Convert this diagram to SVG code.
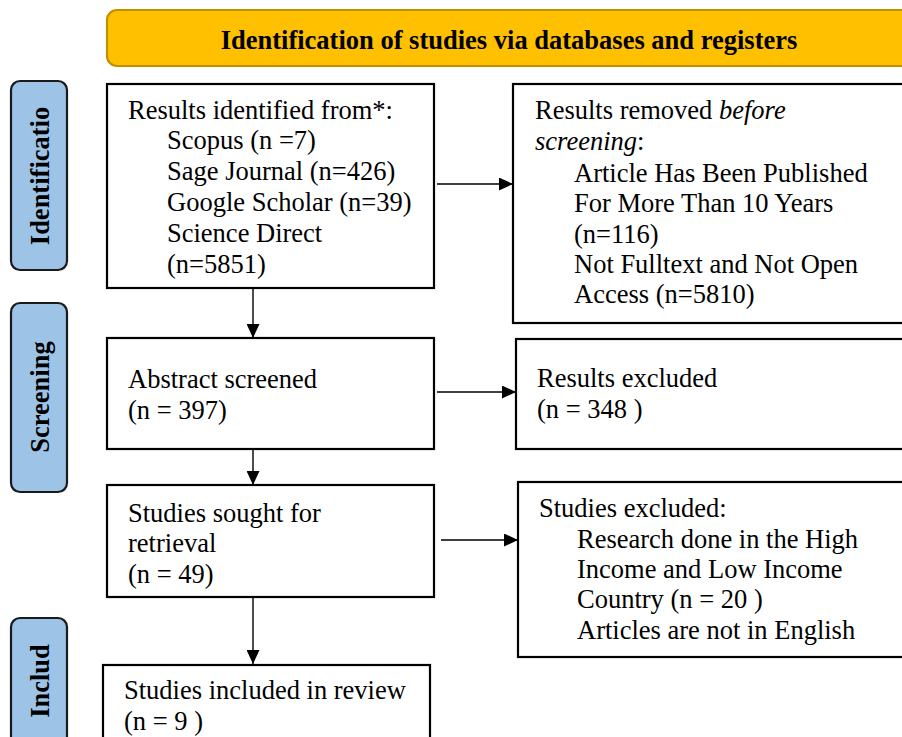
<svg xmlns="http://www.w3.org/2000/svg" width="902" height="737" viewBox="0 0 902 737">
<defs>
<style>
.t{font-family:"Liberation Serif","Times New Roman",serif;font-size:26.5px;fill:#000}
.b{font-weight:bold}
.box{fill:#fff;stroke:#000;stroke-width:2.2}
.side{fill:#9DC3E6;stroke:#1a1a1a;stroke-width:2.2}
.con{stroke:#000;stroke-width:1.4;fill:none;marker-end:url(#ah)}
</style>
<marker id="ah" viewBox="0 0 14 13" refX="14" refY="6.5" markerWidth="14" markerHeight="13" markerUnits="userSpaceOnUse" orient="auto">
<path d="M0,0 L14,6.5 L0,13 z" fill="#000"/>
</marker>
</defs>
<rect width="902" height="737" fill="#fff"/>

<g id="header">
<rect x="107" y="10" width="810" height="56" rx="10" fill="#FFC000" stroke="#BF9000" stroke-width="2.2"/>
<text class="t b" x="509" y="49" text-anchor="middle">Identification of studies via databases and registers</text>
</g>

<g id="side-identification">
<rect class="side" x="11" y="81" width="56" height="189" rx="9"/>
<text class="t b" transform="translate(49,176) rotate(-90)" text-anchor="middle">Identificatio</text>
</g>
<g id="side-screening">
<rect class="side" x="11" y="303" width="56" height="189" rx="9"/>
<text class="t b" transform="translate(49,397) rotate(-90)" text-anchor="middle">Screening</text>
</g>
<g id="side-included">
<rect class="side" x="11" y="618" width="56" height="140" rx="9"/>
<text class="t b" transform="translate(49,681) rotate(-90)" text-anchor="middle">Includ</text>
</g>

<g id="identified">
<rect class="box" x="107" y="84" width="327" height="204"/>
<text class="t" x="128" y="119">Results identified from*:</text>
<text class="t" x="167" y="149">Scopus (n =7)</text>
<text class="t" x="167" y="180">Sage Journal (n=426)</text>
<text class="t" x="167" y="211">Google Scholar (n=39)</text>
<text class="t" x="167" y="242">Science Direct</text>
<text class="t" x="167" y="273">(n=5851)</text>
</g>

<g id="removed">
<rect class="box" x="513" y="84" width="400" height="239"/>
<text class="t" x="535" y="119">Results removed <tspan font-style="italic">before</tspan></text>
<text class="t" x="535" y="150"><tspan font-style="italic">screening</tspan>:</text>
<text class="t" x="574" y="182">Article Has Been Published</text>
<text class="t" x="574" y="212">For More Than 10 Years</text>
<text class="t" x="574" y="243">(n=116)</text>
<text class="t" x="574" y="273">Not Fulltext and Not Open</text>
<text class="t" x="574" y="303">Access (n=5810)</text>
</g>

<g id="screened">
<rect class="box" x="107" y="338" width="327" height="111"/>
<text class="t" x="128" y="388">Abstract screened</text>
<text class="t" x="128" y="419">(n = 397)</text>
</g>

<g id="excluded">
<rect class="box" x="516" y="339" width="400" height="110"/>
<text class="t" x="537" y="387">Results excluded</text>
<text class="t" x="537" y="418">(n = 348 )</text>
</g>

<g id="sought">
<rect class="box" x="107" y="485" width="327" height="112"/>
<text class="t" x="128" y="522">Studies sought for</text>
<text class="t" x="128" y="552">retrieval</text>
<text class="t" x="128" y="583">(n = 49)</text>
</g>

<g id="studies-excluded">
<rect class="box" x="518" y="482" width="400" height="175"/>
<text class="t" x="539" y="517">Studies excluded:</text>
<text class="t" x="577" y="548">Research done in the High</text>
<text class="t" x="577" y="578">Income and Low Income</text>
<text class="t" x="577" y="608">Country (n = 20 )</text>
<text class="t" x="577" y="639">Articles are not in English</text>
</g>

<g id="included">
<rect class="box" x="103" y="665" width="327" height="100"/>
<text class="t" x="124" y="699">Studies included in review</text>
<text class="t" x="124" y="730">(n = 9 )</text>
</g>

<g id="connectors">
<line class="con" x1="253" y1="288" x2="253" y2="338"/>
<line class="con" x1="253" y1="449" x2="253" y2="485"/>
<line class="con" x1="253" y1="597" x2="253" y2="664"/>
<line class="con" x1="437" y1="184" x2="513" y2="184"/>
<line class="con" x1="437" y1="392" x2="516" y2="392"/>
<line class="con" x1="441" y1="540" x2="518" y2="540"/>
</g>
</svg>
